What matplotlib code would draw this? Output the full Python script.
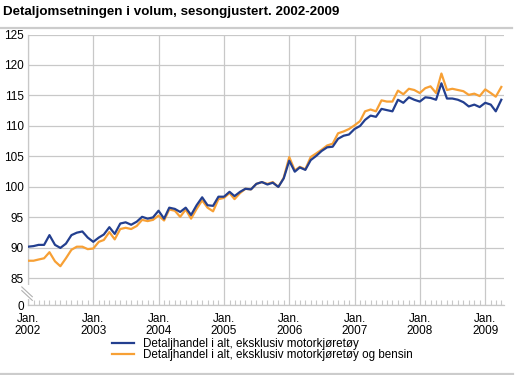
import matplotlib
matplotlib.use('Agg')
import matplotlib.pyplot as plt
import matplotlib.dates as mdates
from matplotlib.lines import Line2D
import pandas as pd

plt.rcParams['font.family'] = ['Liberation Sans', 'DejaVu Sans']

# ── data (monthly, Jan 2002 - Apr 2009) ──────────────────────────────────────
months = pd.date_range('2002-01-01', periods=88, freq='MS')

ekskl_motor = [
    90.2, 90.3, 90.5, 90.5, 92.1, 90.5, 90.0, 90.7, 92.1, 92.5, 92.7, 91.7,
    91.0, 91.7, 92.2, 93.4, 92.3, 94.0, 94.2, 93.8, 94.3, 95.1, 94.8, 95.0,
    96.1, 94.8, 96.6, 96.4, 95.9, 96.6, 95.4, 97.0, 98.3, 97.0, 96.9, 98.4,
    98.4, 99.2, 98.5, 99.2, 99.7, 99.6, 100.5, 100.8, 100.4, 100.7, 100.0, 101.4,
    104.3, 102.5, 103.2, 102.8, 104.4, 105.1, 105.9, 106.5, 106.6, 107.9, 108.4, 108.6,
    109.5, 110.0, 111.0, 111.7, 111.5, 112.8, 112.6, 112.4, 114.3, 113.8, 114.7, 114.3,
    114.0, 114.7, 114.6, 114.3, 117.0, 114.5, 114.5, 114.3, 113.9, 113.2, 113.5, 113.1,
    113.8, 113.5, 112.4, 114.3,
]
ekskl_motor_bensin = [
    87.9, 87.9, 88.1, 88.3, 89.3, 87.8, 87.0, 88.3, 89.7, 90.2, 90.2, 89.8,
    89.9, 91.0, 91.3, 92.6, 91.4, 93.1, 93.3, 93.1, 93.6, 94.6, 94.4, 94.6,
    95.3, 94.5, 96.3, 96.1, 95.1, 96.3, 94.8, 96.4, 97.8, 96.6, 96.0, 98.0,
    98.2, 99.0, 98.0, 99.0, 99.7, 99.6, 100.5, 100.8, 100.5, 100.8, 100.0, 101.5,
    104.9, 102.7, 103.3, 102.9, 104.9, 105.5, 106.1, 106.8, 107.1, 108.8, 109.1, 109.5,
    110.1, 110.8, 112.4, 112.7, 112.4, 114.2, 114.0, 114.0, 115.8, 115.2, 116.1, 115.9,
    115.4, 116.2, 116.5, 115.4, 118.6, 115.9, 116.1, 115.9, 115.7, 115.1, 115.3, 114.9,
    116.0, 115.4, 114.8, 116.4,
]
labels = ['Detaljhandel i alt, eksklusiv motorkjøretøy',
          'Detaljhandel i alt, eksklusiv motorkjøretøy og bensin']
y_ticks = [85, 90, 95, 100, 105, 110, 115, 120, 125]

BLUE = '#233f8f'
ORANGE = '#f7a035'
GRID = '#c8c8c8'
Y0 = 80.64   # where the broken axis puts "0"

fig = plt.figure(figsize=(5.15, 3.75), dpi=100)
ax = fig.add_axes([28 / 515, 1 - 305 / 375, (504 - 28) / 515, (305 - 34.5) / 375])

ax.plot(months, ekskl_motor, color=BLUE, lw=1.6, label=labels[0], zorder=4)
ax.plot(months, ekskl_motor_bensin, color=ORANGE, lw=1.6, label=labels[1], zorder=3)

ax.set_xlim(pd.Timestamp('2002-01-01'), pd.Timestamp('2009-04-16'))
ax.set_ylim(Y0, 125)

ax.set_yticks([Y0] + y_ticks)
ax.set_yticklabels(['0'] + [str(v) for v in y_ticks])
ax.tick_params(axis='y', length=0, pad=3, labelsize=8.5, colors='#000000')

ax.xaxis.set_major_locator(mdates.YearLocator())
ax.xaxis.set_major_formatter(mdates.DateFormatter('Jan.\n%Y'))
ax.xaxis.set_minor_locator(mdates.MonthLocator())
ax.tick_params(axis='x', which='major', length=0, pad=5.5, labelsize=8.5)
ax.tick_params(axis='x', which='minor', direction='in', length=3.5,
               color=GRID, width=0.8)
for t in ax.get_xticklabels():
    t.set_linespacing(1.0)

ax.grid(True, which='major', color=GRID, lw=0.9)
ax.set_axisbelow(True)
for side in ('top', 'right'):
    ax.spines[side].set_visible(False)
for side in ('left', 'bottom'):
    ax.spines[side].set_color(GRID)
    ax.spines[side].set_linewidth(0.9)

# break marks on the y axis
trans = ax.get_yaxis_transform()
ax.add_patch(plt.Rectangle((-0.008, 81.6), 0.016, 2.3, transform=trans,
                           facecolor='white', edgecolor='none',
                           clip_on=False, zorder=5))
for dy in (0.0, 0.6):
    ax.add_line(Line2D([-0.013, 0.009], [83.6 - dy, 82.0 - dy], transform=trans,
                       color='#b0b0b0', lw=0.8, clip_on=False, zorder=6))

# title and rules
fig.text(3 / 515, 1 - 12 / 375, 'Detaljomsetningen i volum, sesongjustert. 2002-2009',
         fontsize=9.6, fontweight='bold', va='center', ha='left')
fig.add_artist(Line2D([0, 512 / 515], [1 - 27.5 / 375] * 2, color='#cccccc', lw=1.6))
fig.add_artist(Line2D([0, 513 / 515], [1 - 373.5 / 375] * 2, color='#cccccc', lw=1.6))

fig.legend(loc='upper left', bbox_to_anchor=(112 / 515, 1 - 338 / 375),
           frameon=False, fontsize=8.4, handlelength=1.85, handletextpad=0.8,
           labelspacing=-0.08, borderpad=0, borderaxespad=0)

fig.savefig('out.png', dpi=100, facecolor='white')
